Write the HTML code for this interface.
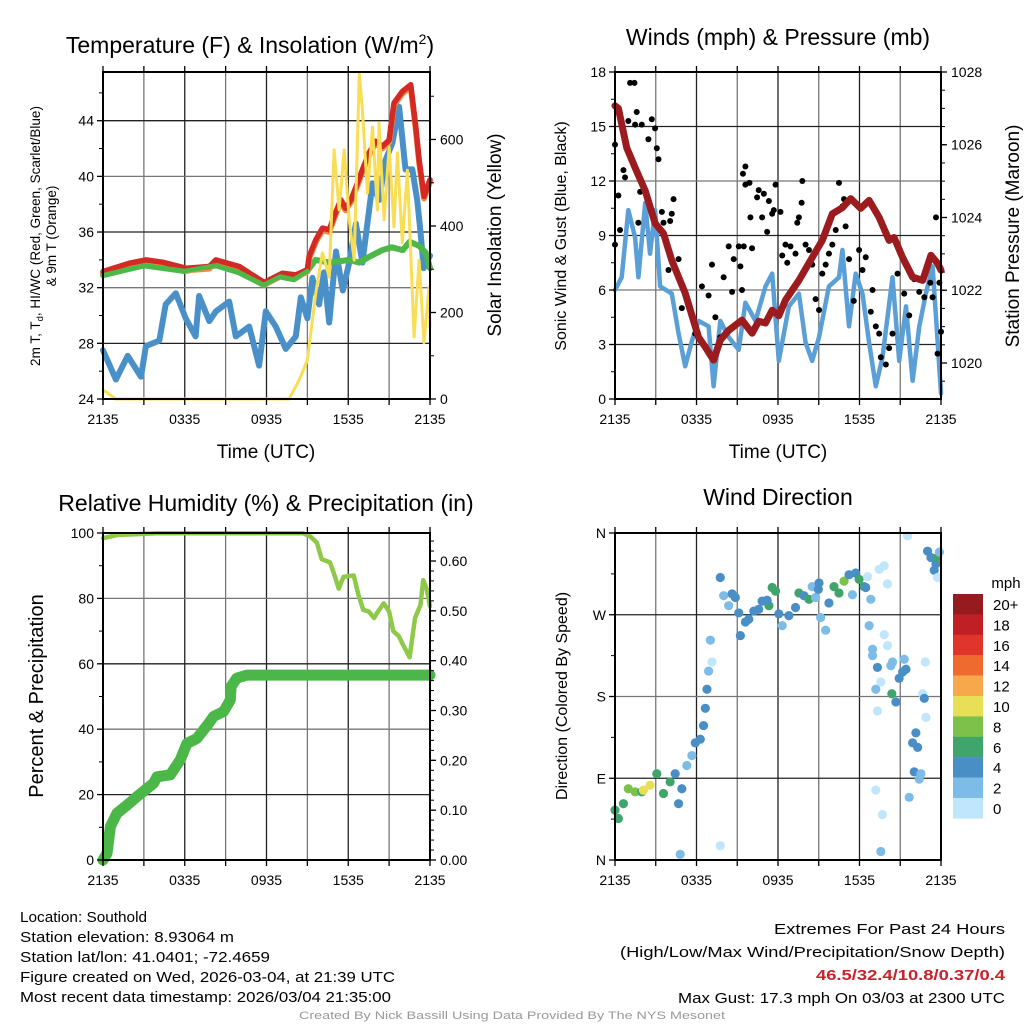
<!DOCTYPE html>
<html><head><meta charset="utf-8"><style>
body{margin:0;background:#fff;width:1024px;height:1024px;overflow:hidden}
svg{font-family:"Liberation Sans",Arial,sans-serif}
</style></head><body>
<svg id="c" width="1024" height="1024" viewBox="0 0 1024 1024" xmlns="http://www.w3.org/2000/svg"></svg>
<script>
// ---------- DATA ----------
// Panel 1: temperature (hours since 2135 UTC)
const tempH=[0,1.93,3.15,4.37,6.09,7.8,8.28,10,11.83,13.17,14.15,15.0,15.13,15.62,16.1,16.6,16.96,17.45,17.8,18.2,18.67,19.04,19.53,20.0,20.5,21.0,21.36,21.97,22.58,22.95,23.2,23.56,24];
const tempV=[33.16,33.76,34.0,33.83,33.4,33.52,34.0,33.52,32.37,33.04,32.92,33.3,34.24,35.44,36.28,36.16,37.12,38.32,37.72,38.32,39.5,40.48,41.68,42.52,42.16,42.6,45.27,46.1,46.59,43.6,41.2,38.56,39.76];
const greenH=[0,3,6,8.3,10,11.8,13,14,15,15.6,16.6,18.1,18.8,19.5,20.5,21.2,22,22.5,23.2,23.7,24];
const greenV=[32.9,33.6,33.2,33.6,33.1,32.2,32.8,32.6,33.2,34.0,33.8,34.0,33.8,34.2,34.7,34.9,34.7,35.3,35.0,34.5,33.4];
const dewH=[0,0.95,1.81,2.79,3.15,4.13,4.6,5.34,6.07,6.8,7.05,7.8,8.29,9.26,9.75,10.73,11.46,11.95,12.68,13.42,14.15,14.52,15.0,15.37,15.86,16.22,16.6,17.1,17.6,18.07,18.56,19.04,19.78,20.26,20.75,21.24,21.73,22.2,22.7,23.06,23.3,23.54,24];
const dewV=[27.5,25.4,27.1,25.6,27.8,28.2,30.8,31.6,29.8,28.5,31.4,29.6,30.3,31.0,28.5,29.2,26.4,30.3,29.2,27.6,28.5,31.3,29.8,32.7,30.8,33.1,29.5,34.6,31.8,33.8,36.6,33.8,39.5,38.3,41.2,42.4,45.0,40.5,40.5,38.3,36.0,33.4,34.3];
const solH=[0,0.95,13.66,14.4,15.0,15.62,16.1,16.6,16.96,17.33,17.7,18.07,18.44,18.81,19.04,19.41,19.78,20.14,20.26,20.63,21.0,21.36,21.61,21.97,22.34,22.83,23.2,23.56,23.93,24];
const solV=[21,0,0,44,90,245,338,282,576,437,576,414,321,754,668,476,629,437,638,414,583,398,569,361,529,143,321,130,259,167];
// Panel 2: winds & pressure
const windH=[0,0.49,0.98,1.48,1.72,2.22,2.58,2.95,3.32,4.18,4.68,5.17,5.66,6.15,6.89,7.26,7.75,8.37,9.11,9.6,10.34,11.08,11.57,12.06,12.8,13.54,14.03,14.52,15.02,15.75,16.49,16.74,17.23,17.72,18.22,18.71,19.2,19.69,20.43,20.92,21.42,21.91,22.4,22.89,23.38,23.75,24];
const windV=[6.0,6.7,10.4,8.9,6.7,10.8,8.0,10.4,6.2,5.8,3.6,1.8,3.2,4.3,4.0,0.7,4.3,3.4,2.7,5.3,4.3,6.2,6.9,2.1,5.1,5.8,3.1,2.1,3.4,6.2,6.7,8.2,4.0,6.9,5.8,3.1,0.7,2.3,6.7,2.1,5.1,1.0,4.0,5.8,7.3,3.2,0.3];
const presH=[0,0.25,0.86,1.48,2.22,2.95,3.57,4.18,5.17,6.15,6.65,7.26,7.75,8.37,9.35,10.09,10.58,11.08,11.57,12.06,12.55,13.54,14.52,15.26,16.0,16.74,17.35,18.09,18.71,19.45,20.18,20.55,21.17,21.91,22.65,23.26,23.75,24];
const presV=[1027.07,1027.0,1025.92,1025.37,1024.74,1023.84,1023.56,1022.82,1021.92,1020.71,1020.44,1020.08,1020.63,1020.9,1021.18,1020.82,1021.15,1021.1,1021.45,1021.3,1021.73,1022.27,1022.9,1023.37,1024.1,1024.27,1024.52,1024.25,1024.47,1024.0,1023.37,1023.45,1022.9,1022.36,1022.27,1022.96,1022.74,1022.55];
const gustH=[0,0,0.25,0.37,0.62,0.74,1.11,1.43,0.98,1.48,1.6,1.97,1.85,1.72,2.46,2.71,2.95,3.08,3.2,3.45,3.57,4.06,4.31,4.18,3.94,4.68,4.92,5.91,6.4,6.89,7.14,7.39,7.75,8.0,8.37,8.62,8.74,9.11,9.23,9.35,9.48,9.6,9.42,9.9,10.09,9.6,9.97,10.46,10.58,10.83,10.96,11.33,11.57,11.69,11.82,11.2,12.31,12.18,12.55,12.68,12.92,13.29,13.42,13.54,13.74,13.79,14.03,14.28,14.52,14.77,15.02,15.26,15.51,15.75,16.0,16.25,16.49,16.74,16.86,16.98,17.23,17.58,17.97,18.22,18.46,18.83,18.96,19.45,19.2,19.57,19.94,20.18,20.43,20.8,21.29,21.66,22.03,22.4,22.77,23.21,23.38,23.63,23.88,24,23.75];
const gustV=[8.5,14.0,11.2,9.3,12.6,12.2,17.4,17.4,15.3,15.1,15.8,15.1,11.4,9.7,14.3,15.4,14.9,13.8,13.2,10.3,9.7,9.8,11.0,10.2,7.1,7.7,5.0,3.6,6.2,5.7,7.4,4.5,3.4,6.7,8.4,5.9,7.7,8.4,7.3,6.0,8.4,12.8,12.4,11.9,8.3,11.8,10.0,11.1,11.5,10.0,11.3,10.9,10.2,10.4,11.8,9.2,7.9,10.3,8.5,7.5,8.4,8.0,9.7,10.0,10.8,12.0,8.5,8.2,7.4,5.5,4.9,6.9,7.4,8.0,8.5,9.3,11.9,10.6,11.0,9.5,7.7,5.4,8.2,7.1,7.8,4.8,6.0,3.6,4.0,2.3,1.9,2.8,3.6,6.9,5.8,4.6,6.6,5.9,5.6,6.4,5.6,10.0,6.4,3.7,2.5,1.9,4.5];
// Panel 3: RH & precip
const rhH=[0,1.03,3.96,14.7,15.2,15.7,16.05,16.66,17.0,17.3,17.65,18.4,18.75,19.1,19.5,19.9,20.1,20.6,21.0,21.3,21.7,22.0,22.5,22.9,23.3,23.5,23.75,24];
const rhV=[98.4,99.4,99.9,99.9,99,97,92,91,87,83,86.6,87,81,76.5,76,74,75.5,78.5,76,70,68.5,66,62,74,78,85.6,83,77.6];
const prH=[0,0.29,0.54,1.03,1.76,2.49,3.71,3.96,4.94,5.67,6.16,6.89,7.75,8.11,8.85,9.34,9.4,9.82,10.56,24];
const prV=[0,0.013,0.067,0.094,0.110,0.127,0.154,0.167,0.171,0.201,0.234,0.244,0.274,0.288,0.298,0.321,0.348,0.365,0.371,0.371];
// Panel 4: wind direction (hours, degrees, speed mph)
const dirH=[0,0.25,0.62,0.98,1.48,1.97,2.09,2.58,3.08,3.57,4.06,4.43,4.68,4.92,4.8,5.29,5.66,5.91,6.28,6.52,6.65,6.77,6.89,7.14,7.02,7.75,7.75,8.0,8.37,8.62,8.86,9.11,9.23,9.6,9.85,10.22,10.58,10.83,11.33,11.57,11.2,11.82,12.06,12.31,12.8,13.29,13.54,13.91,14.28,14.52,14.77,14.97,15.02,15.14,15.51,15.75,16.12,16.49,16.86,17.23,17.48,17.72,17.97,18.34,18.46,18.59,18.71,18.83,18.96,18.96,19.2,19.45,19.57,19.82,19.82,20.06,20.06,20.31,20.43,20.38,20.68,20.92,21.17,21.29,21.42,21.54,21.66,21.91,22.03,22.15,22.28,22.4,22.52,22.65,22.77,22.89,23.01,23.26,23.5,23.63,23.75,23.88,23.75,22.84,19.32,19.32,19.57,19.2,19.69];
const dirV=[54.9,45.7,62,78.4,75,75,76.8,82.3,95,73.2,86,95,62,78.4,6.2,104,115,129,133,148,167,188,208,218,242,15.7,311,291,280,293,289,272,247,262,265,274,276,285,280,300,286,296,271,258,269,278,294,291,287,301,289,298,305,267,253,283,301,294,307,314,292,316,309,301,300,312,258,287,232,225,188,320,196,248,324,304,236,214,218,183,174,200,207,221,210,357,69,129,97,140,124,89,95,183,178,157,340,333,319,326,333,339,311,218,212,164,9.4,77,50,28,17,16.5];
const dirS=[6,6,7,9,8,7,10,10,7,6,6,4,4,4,3,3,3,4,4,4,4,4,3,1,3,1,4,3,3,4,4,4,4,4,4,4,4,4,6,6,4,6,4,3,4,4,6,4,6,3,3,4,4,3,3,4,6,6,8,4,3,4,6,6,4,1,3,3,3,3,3,1,1,1,1,1,1,3,3,6,4,4,4,3,4,1,3,4,4,4,4,3,3,1,4,1,4,4,4,4,6,3,1,1,4,1,3,1,1,1,1,1];
const cbLabels=["20+","18","16","14","12","10","8","6","4","2","0"];
const cbColors=["#961b1e","#c01f26","#e0352a","#ef6a2f","#f7a84b","#e8df57","#7cc24a","#40a56c","#4a8ec6","#7dbce6","#bfe6fa"];
const timeTicks=["2135","0335","0935","1535","2135"];

// ---------- HELPERS ----------
const NS="http://www.w3.org/2000/svg";
const svg=document.getElementById('c');
function mk(tag,attrs,parent){const e=document.createElementNS(NS,tag);for(const k in attrs)e.setAttribute(k,attrs[k]);(parent||svg).appendChild(e);return e;}
function txt(s,x,y,size,opts,parent){const e=mk('text',Object.assign({x:x,y:y,'font-size':size,fill:'#000','text-anchor':'middle'},opts||{}),parent);e.textContent=s;return e;}
function lin(v,d0,d1,r0,r1){return r0+(v-d0)/(d1-d0)*(r1-r0);}
function poly(hs,vs,sx,sy,stroke,w,parent,name){let d='';for(let i=0;i<hs.length;i++){d+=(i?'L':'M')+sx(hs[i]).toFixed(1)+','+sy(vs[i]).toFixed(1);}const p=mk('path',{d:d,fill:'none',stroke:stroke,'stroke-width':w,'stroke-linejoin':'round','stroke-linecap':'round'},parent);


return p;}

function frame(P,name,hTicks,ticksL,sy){
  const g=mk('g',{});
  
  
  for(let h=3;h<24;h+=3){const x=lin(h,0,24,P.x0,P.x1);mk('line',{x1:x,x2:x,y1:P.y0,y2:P.y1,stroke:h%6?'#777':'#222','stroke-width':1.3},g);}
  ticksL.forEach((t,i)=>{const y=sy(t);if(y>P.y0+1&&y<P.y1-1)mk('line',{x1:P.x0,x2:P.x1,y1:y,y2:y,stroke:i%2?'#222':'#777','stroke-width':1.3},g);});
  return g;
}
function axes(P,ticksL,sy,labL,ticksR,syR,labR,minorL,minorR){
  const g=mk('g',{});
  
  
  mk('rect',{x:P.x0,y:P.y0,width:P.x1-P.x0,height:P.y1-P.y0,fill:'none',stroke:'#000','stroke-width':2},g);
  ticksL.forEach((t,i)=>{const y=sy(t);mk('line',{x1:P.x0-6,x2:P.x0,y1:y,y2:y,stroke:'#000','stroke-width':1.3},g);txt(labL[i],P.x0-9,y+5,14,{'text-anchor':'end'},g);});
  (minorL||[]).forEach(t=>{const y=sy(t);mk('line',{x1:P.x0-4,x2:P.x0,y1:y,y2:y,stroke:'#000','stroke-width':1},g);});
  if(ticksR){ticksR.forEach((t,i)=>{const y=syR(t);mk('line',{x1:P.x1,x2:P.x1+6,y1:y,y2:y,stroke:'#000','stroke-width':1.3},g);txt(labR[i],P.x1+10,y+5,14,{'text-anchor':'start'},g);});
  (minorR||[]).forEach(t=>{const y=syR(t);mk('line',{x1:P.x1,x2:P.x1+4,y1:y,y2:y,stroke:'#000','stroke-width':1},g);});}
  for(let h=0;h<=24;h+=3){const x=lin(h,0,24,P.x0,P.x1);mk('line',{x1:x,x2:x,y1:P.y1,y2:P.y1+6,stroke:'#000','stroke-width':1.3},g);mk('line',{x1:x,x2:x,y1:P.y0-6,y2:P.y0,stroke:'#000','stroke-width':1.3},g);}
  timeTicks.forEach((s,i)=>{txt(s,lin(i*6,0,24,P.x0,P.x1),P.y1+25,14,{},g);});
}
function range(a,b,s){const r=[];for(let v=a;v<=b+1e-9;v+=s)r.push(+v.toFixed(3));return r;}

// ---------- PANEL 1 ----------
const P1={x0:103,x1:430,y0:72,y1:399};
const x1s=h=>lin(h,0,24,P1.x0,P1.x1), y1s=v=>lin(v,24,47.5,P1.y1,P1.y0), y1r=v=>lin(v,0,756,P1.y1,P1.y0);
const t1=range(24,44,4);
frame(P1,'temp-grid',null,t1,y1s);
const g1=mk('g',{});


poly(dewH,dewV,x1s,y1s,'#4a90c8',6,g1,'dewpoint-line');
poly(greenH,greenV,x1s,y1s,'#4db848',6,g1,'heat-index-line');
poly(tempH,tempV.map(v=>v-0.15),x1s,y1s,'#f58a3a',6,g1,'temp-9m-line');
poly(tempH,tempV,x1s,y1s,'#d42a26',5.5,g1,'temp-2m-line');
poly(greenH.slice(0,9),greenV.slice(0,9),x1s,y1s,'#4db848',4.5,g1,'heat-index-line-front');
poly(solH,solV,x1s,y1r,'#f9de55',3,g1,'insolation-line');
axes(P1,t1,y1s,t1.map(String),[0,200,400,600],y1r,['0','200','400','600'],range(26,46,4),range(100,700,100));
const tt1=txt('Temperature (F) & Insolation (W/m',250,53,23,{});


const sup=mk('tspan',{dy:-9,'font-size':14},tt1);sup.textContent='2';
const cl=mk('tspan',{dy:9},tt1);cl.textContent=')';
const xl1=txt('Time (UTC)',266,458,19,{});


const yl1=mk('text',{transform:'translate(40,236) rotate(-90)','font-size':13.5,'text-anchor':'middle'});


yl1.innerHTML='2m T, T<tspan font-size="9.5" dy="3">d</tspan><tspan dy="-3">, HI/WC (Red, Green, Scarlet/Blue)</tspan>';
const yl1b=txt('& 9m T (Orange)',0,0,13.5,{transform:'translate(56,236) rotate(-90)'});


const yr1=txt('Solar Insolation (Yellow)',0,0,19,{transform:'translate(501,235) rotate(-90)'});



// ---------- PANEL 2 ----------
const P2={x0:615,x1:941,y0:72,y1:399};
const x2s=h=>lin(h,0,24,P2.x0,P2.x1), y2s=v=>lin(v,0,18,P2.y1,P2.y0), y2r=v=>lin(v,1019.01,1028,P2.y1,P2.y0);
const t2=range(0,18,3);
frame(P2,'wind-grid',null,t2,y2s);
const g2=mk('g',{});


poly(windH,windV,x2s,y2s,'#5a9fd6',4.5,g2,'sonic-wind-line');
for(let i=0;i<gustH.length;i++){const c=mk('circle',{cx:x2s(gustH[i]),cy:y2s(gustV[i]),r:3,fill:'#000'},g2);

}
poly(presH,presV,x2s,y2r,'#9b1b1e',7,g2,'pressure-line');
axes(P2,t2,y2s,t2.map(String),[1020,1022,1024,1026,1028],y2r,['1020','1022','1024','1026','1028'],range(1.5,16.5,3),range(1019.5,1027.5,0.5));
const tt2=txt('Winds (mph) & Pressure (mb)',778,45,23,{});


const xl2=txt('Time (UTC)',778,458,19,{});


const yl2=txt('Sonic Wind & Gust (Blue, Black)',0,0,16,{transform:'translate(566,236) rotate(-90)'});


const yr2=txt('Station Pressure (Maroon)',0,0,19,{transform:'translate(1019,236) rotate(-90)'});



// ---------- PANEL 3 ----------
const P3={x0:103,x1:430,y0:533,y1:860};
const x3s=h=>lin(h,0,24,P3.x0,P3.x1), y3s=v=>lin(v,0,100,P3.y1,P3.y0), y3r=v=>lin(v,0,0.6562,P3.y1,P3.y0);
const t3=range(0,100,20);
frame(P3,'rh-grid',null,t3,y3s);
const g3=mk('g',{});


poly(rhH,rhV,x3s,y3s,'#8ec94a',4.5,g3,'relative-humidity-line');
poly(prH,prV,x3s,y3r,'#4ab748',11,g3,'precipitation-line');
const t3r=range(0,0.6,0.1);
axes(P3,t3,y3s,t3.map(String),t3r,y3r,t3r.map(v=>v.toFixed(2)),range(10,90,20),range(0.02,0.64,0.02));
const tt3=txt('Relative Humidity (%) & Precipitation (in)',266,511,23,{});


const yl3=txt('Percent & Precipitation',0,0,20,{transform:'translate(43,696) rotate(-90)'});



// ---------- PANEL 4 ----------
const P4={x0:615,x1:941,y0:533,y1:860};
const x4s=h=>lin(h,0,24,P4.x0,P4.x1), y4s=v=>lin(v,0,360,P4.y1,P4.y0);
const t4=[0,90,180,270,360];
frame(P4,'direction-grid',null,t4,y4s);
const g4=mk('g',{});


function spdColor(s){let idx=Math.min(10,Math.floor(s/2));return cbColors[10-idx];}
for(let i=0;i<dirH.length;i++){const c=mk('circle',{cx:x4s(dirH[i]),cy:y4s(dirV[i]),r:4.6,fill:spdColor(dirS[i])},g4);

}
axes(P4,t4,y4s,['N','E','S','W','N'],null,null,null,[45,135,225,315]);
const tt4=txt('Wind Direction',778,505,23,{});


const yl4=txt('Direction (Colored By Speed)',0,0,16,{transform:'translate(567,696) rotate(-90)'});


// colorbar
const cb=mk('g',{});


txt('mph',1006,588,15,{},cb);
cbLabels.forEach((l,i)=>{const r=mk('rect',{x:953,y:594+i*20.4,width:30,height:20.6,fill:cbColors[i]},cb);


txt(l,993,594+i*20.4+16,15,{'text-anchor':'start'},cb);});

// ---------- FOOTER ----------
const ft=mk('g',{});


[["Location: Southold",127],["Station elevation: 8.93064 m",214],["Station lat/lon: 41.0401; -72.4659",250],["Figure created on Wed, 2026-03-04, at 21:39 UTC",375],["Most recent data timestamp: 2026/03/04 21:35:00",371]].forEach((a,i)=>{
 txt(a[0],20,922+i*20,15,{'text-anchor':'start',textLength:a[1],lengthAdjust:'spacingAndGlyphs'},ft);});
const ex=mk('g',{});


txt('Extremes For Past 24 Hours',1005,934,15,{'text-anchor':'end',textLength:231,lengthAdjust:'spacingAndGlyphs'},ex);
txt('(High/Low/Max Wind/Precipitation/Snow Depth)',1005,957,15,{'text-anchor':'end',textLength:385,lengthAdjust:'spacingAndGlyphs'},ex);
txt('46.5/32.4/10.8/0.37/0.4',1005,980,15,{'text-anchor':'end','font-weight':'bold',fill:'#c9222a',textLength:189,lengthAdjust:'spacingAndGlyphs'},ex);
txt('Max Gust: 17.3 mph On 03/03 at 2300 UTC',1005,1003,15,{'text-anchor':'end',textLength:327,lengthAdjust:'spacingAndGlyphs'},ex);
const cr=txt('Created By Nick Bassill Using Data Provided By The NYS Mesonet',512,1019,11,{fill:'#999',textLength:426,lengthAdjust:'spacingAndGlyphs'});


</script>
</body></html>
